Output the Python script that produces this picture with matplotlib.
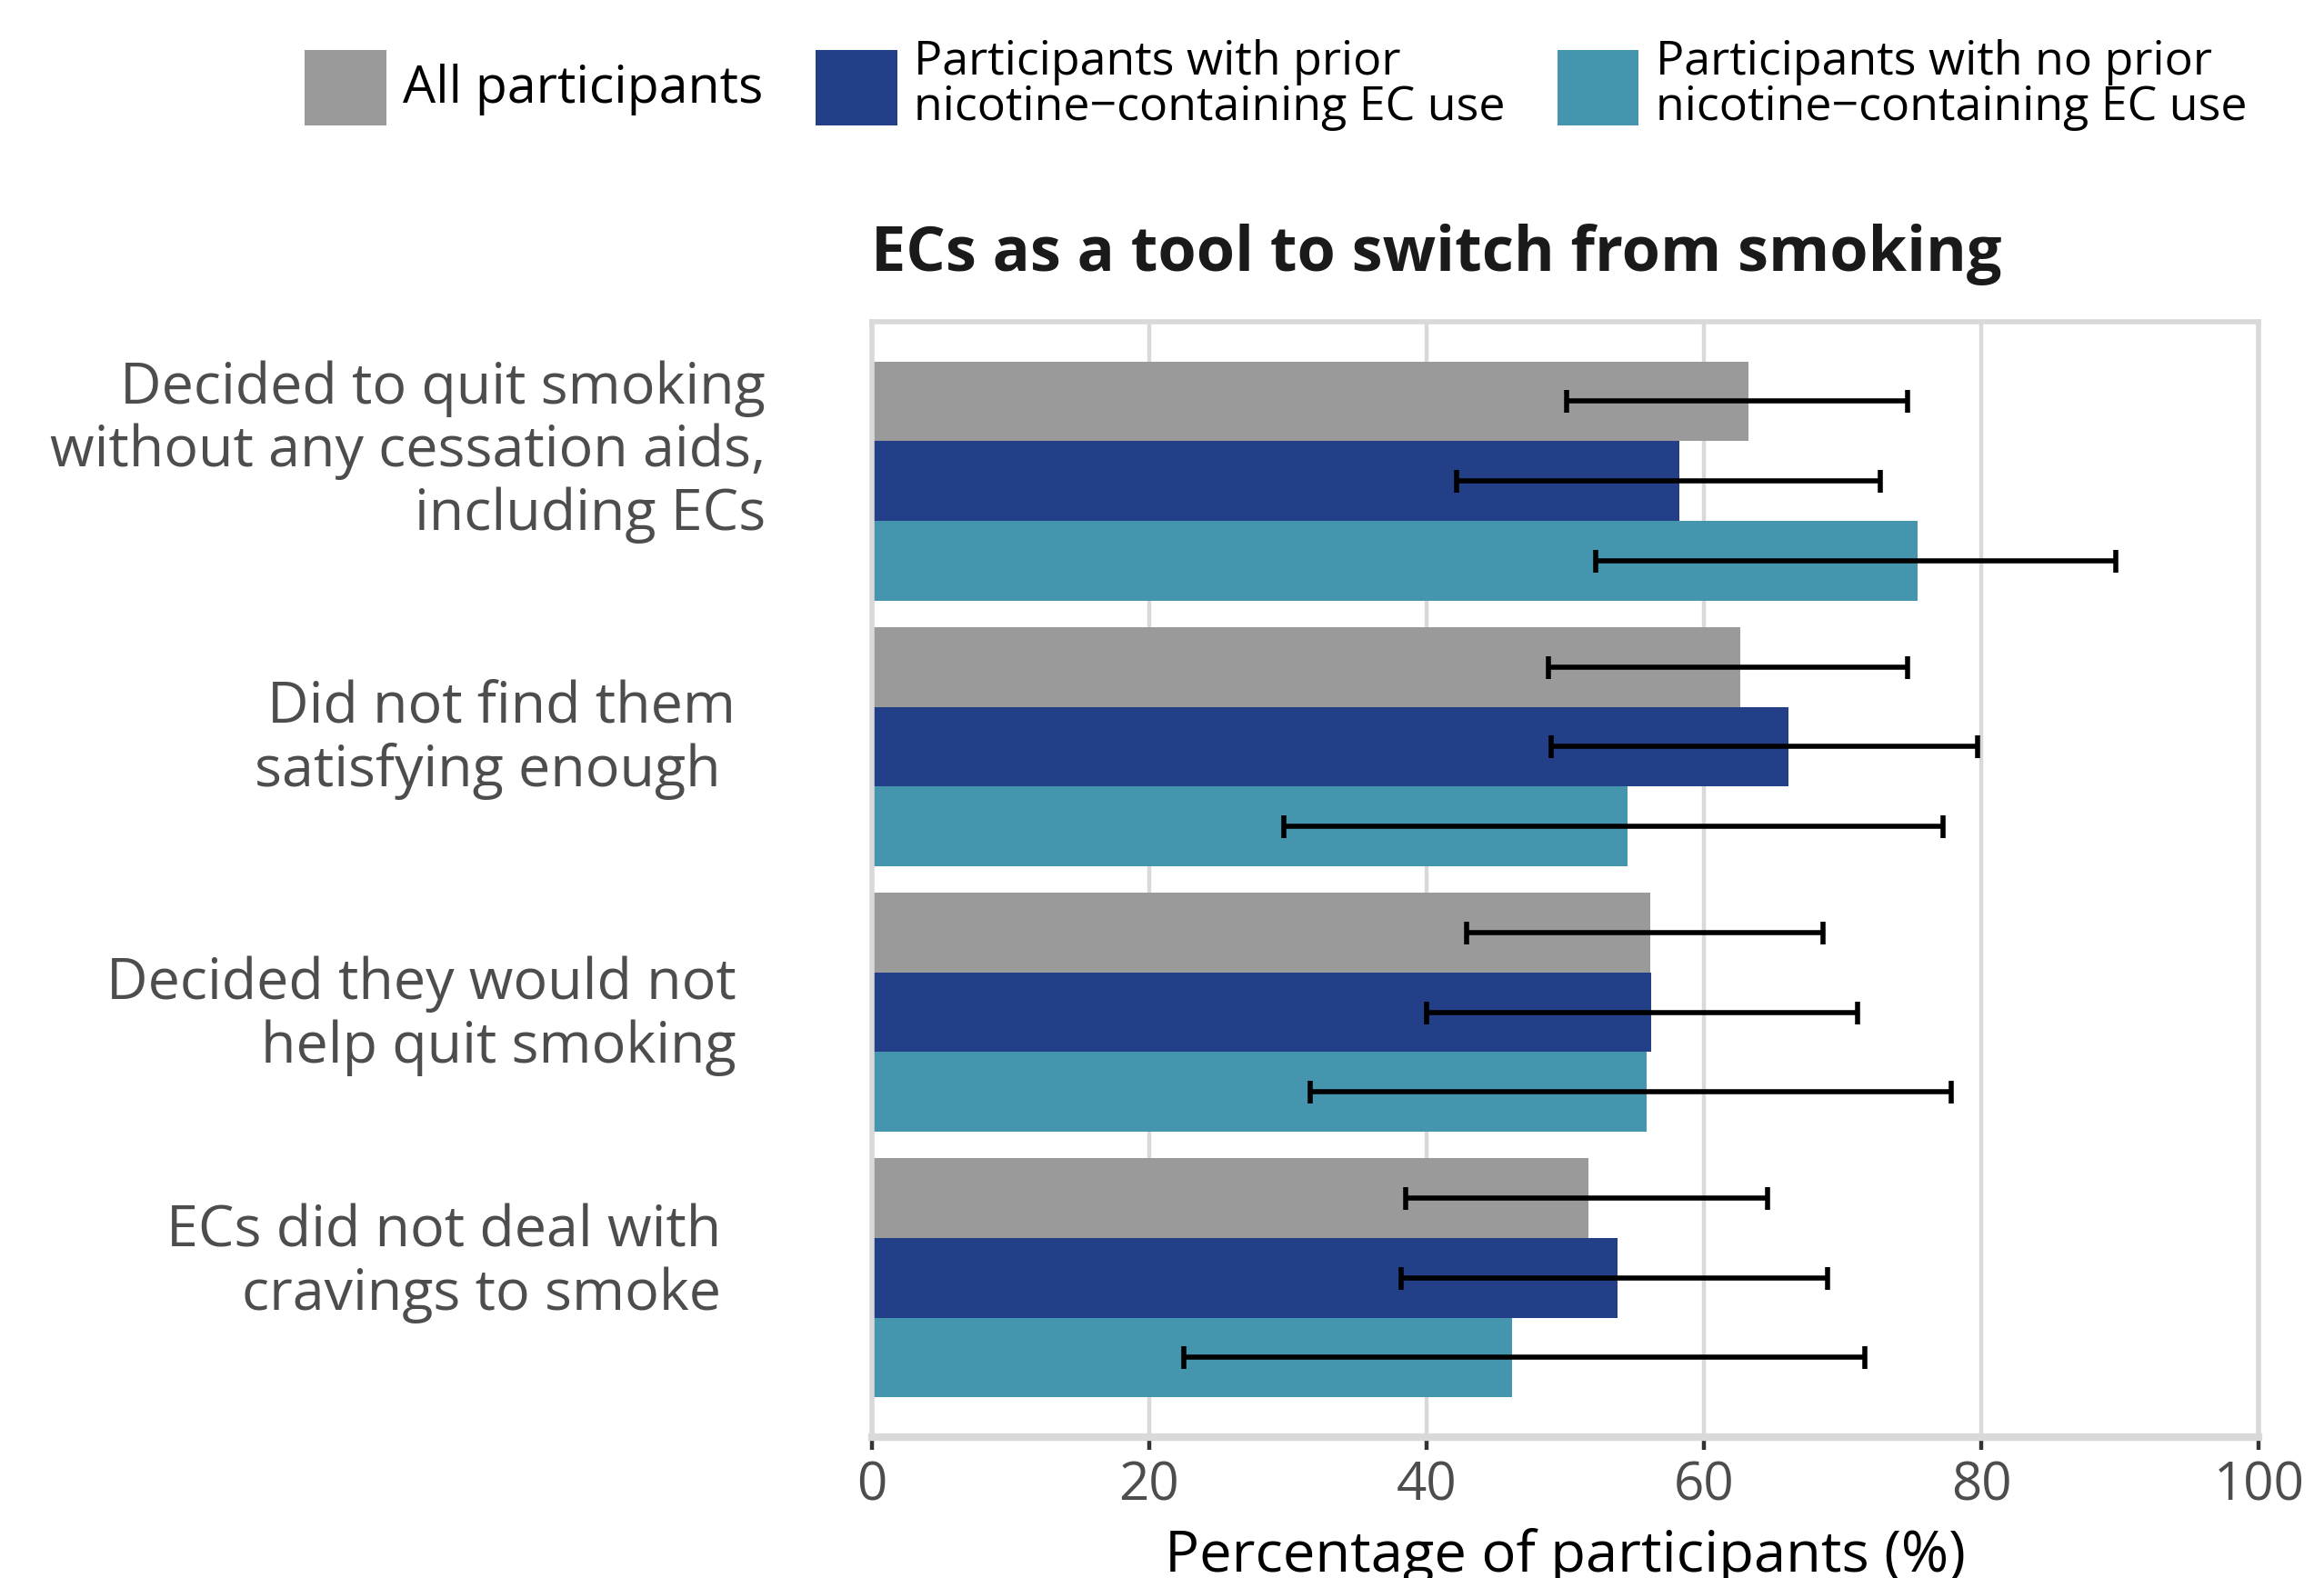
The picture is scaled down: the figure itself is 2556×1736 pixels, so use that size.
import matplotlib
matplotlib.use('Agg')
import matplotlib.pyplot as plt
from matplotlib.patches import Patch
from matplotlib.transforms import ScaledTranslation
import numpy as np

plt.rcParams['font.family'] = ['Open Sans', 'DejaVu Sans']

reasons = [
    'Decided to quit smoking\nwithout any cessation aids,\nincluding ECs',
    'Did not find them  \nsatisfying enough   ',
    'Decided they would not  \nhelp quit smoking  ',
    'ECs did not deal with   \ncravings to smoke   ',
]
groups = ['All participants',
          'Participants with prior\nnicotine\u2212containing EC use',
          'Participants with no prior\nnicotine\u2212containing EC use']
colors = ['#9a9a9a', '#233f88', '#4595af']

# percentages and 95% CI per group, one entry per reason
pct_all = [63.2, 62.6, 56.1, 51.7]
lo_all = [50.1, 48.8, 42.9, 38.5]
hi_all = [74.7, 74.7, 68.6, 64.6]

pct_prior = [58.2, 66.1, 56.2, 53.8]
lo_prior = [42.2, 49.0, 40.0, 38.2]
hi_prior = [72.7, 79.7, 71.1, 68.9]

pct_none = [75.4, 54.5, 55.9, 46.2]
lo_none = [52.2, 29.7, 31.6, 22.5]
hi_none = [89.7, 77.2, 77.8, 71.6]

series = [(pct_all, lo_all, hi_all),
          (pct_prior, lo_prior, hi_prior),
          (pct_none, lo_none, hi_none)]

# vertical nudge (inches) of each reason label
label_shift = [0.215, 0.095, 0.035, 0.135]

fig = plt.figure(figsize=(12.78, 8.68), dpi=200)
ax = fig.add_axes([0.375, 0.0892, 0.597, 0.7070])

y = np.arange(len(reasons))
h = 0.3
for k, (pct, lo, hi) in enumerate(series):
    pos = y + (k - 1) * h
    pct = np.asarray(pct)
    err = [pct - np.asarray(lo), np.asarray(hi) - pct]
    ax.barh(pos, pct, height=h, color=colors[k], zorder=2)
    ax.errorbar(pct, pos, xerr=err, fmt='none', ecolor='black',
                elinewidth=2.0, capsize=4.5, capthick=2.0, zorder=3)

ax.set_xlim(0, 100)
ax.set_ylim(len(reasons) - 0.4, -0.6)
ax.set_xticks(np.arange(0, 101, 20))
ax.set_yticks(y)
ax.set_yticklabels(reasons, linespacing=1.15)
ax.tick_params(axis='y', length=0, pad=42, labelsize=22.6, labelcolor='#4d4d4d')
ax.tick_params(axis='x', length=5, width=1.6, color='#333333', pad=4,
               labelsize=21, labelcolor='#4d4d4d')
ax.grid(axis='x', color='#d9d9d9', lw=1.6, zorder=0)
ax.set_axisbelow(True)
for s in ax.spines.values():
    s.set_color('#d9d9d9')
    s.set_linewidth(2.0)
ax.spines['bottom'].set_linewidth(3.0)

for lab, dy in zip(ax.get_yticklabels(), label_shift):
    lab.set_transform(lab.get_transform()
                      + ScaledTranslation(0, dy, fig.dpi_scale_trans))

ax.set_xlabel('Percentage of participants (%)', fontsize=22.8, labelpad=6)
ax.set_title('ECs as a tool to switch from smoking', fontsize=24.6,
             fontweight='bold', loc='left', color='#1a1a1a', pad=20)

handles = [Patch(facecolor=c, edgecolor='none') for c in colors]
leg = fig.legend(handles, groups, loc='center', bbox_to_anchor=(0.549, 0.946),
                 ncol=3, frameon=False, fontsize=18.7, handlelength=1.73,
                 handleheight=2.08, handletextpad=0.35, columnspacing=1.1)
for t in leg.get_texts():
    t.set_linespacing(0.97)
leg.get_texts()[0].set_fontsize(20.6)

fig.savefig('out.png', dpi=200)
